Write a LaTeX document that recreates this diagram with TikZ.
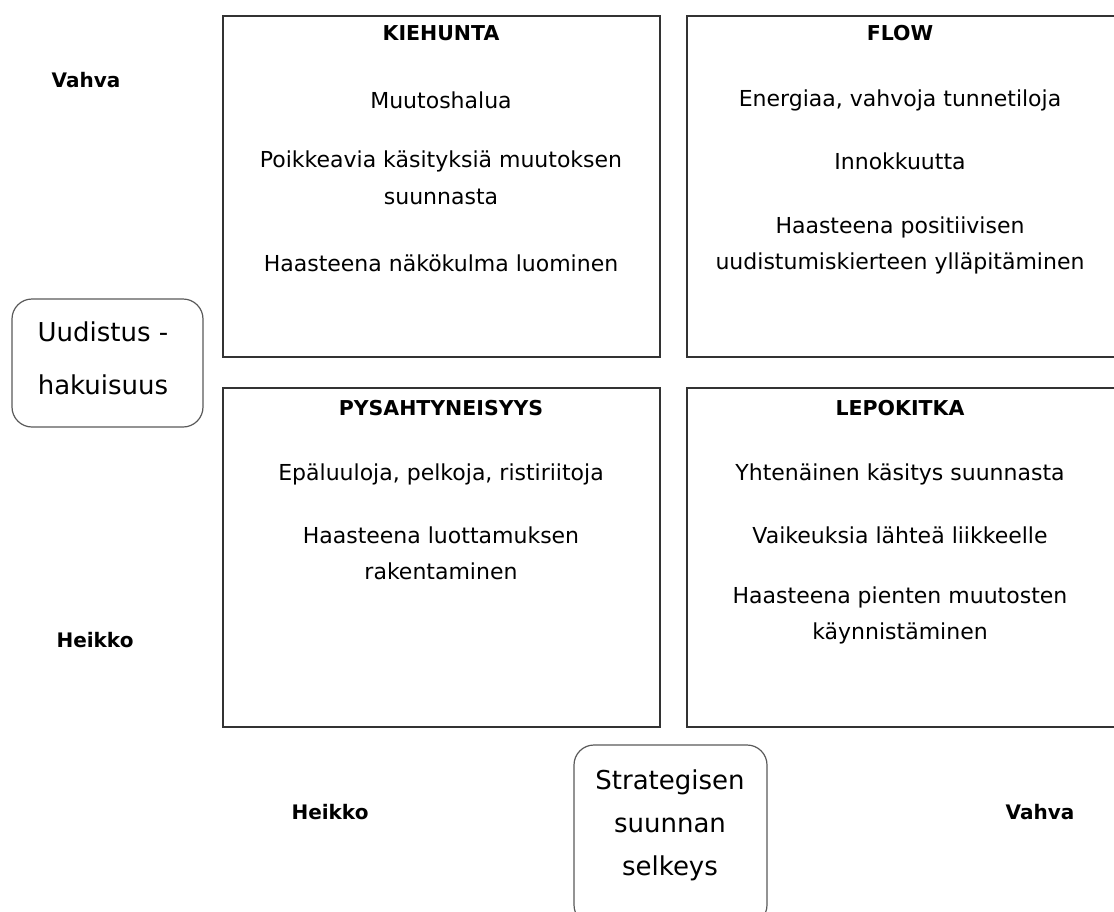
\documentclass[tikz,border=0pt]{standalone}
\usepackage{fontspec}
\setmainfont{DejaVu Sans}
\begin{document}
\begin{tikzpicture}[x=1pt,y=-1pt,
  quad/.style={draw=black!80,line width=1.3pt},
  axisbox/.style={draw=black!65,line width=1.2pt,rounded corners=20pt},
  head/.style={font=\bfseries\fontsize{20.5}{24}\selectfont,anchor=center,inner sep=0pt},
  body/.style={font=\fontsize{22}{26}\selectfont,anchor=center,inner sep=0pt},
  lab/.style={font=\bfseries\fontsize{20}{24}\selectfont,anchor=center,inner sep=0pt},
  big/.style={font=\fontsize{26}{30}\selectfont,anchor=center,inner sep=0pt}]
\useasboundingbox (0,0) rectangle (1114,911);
% quadrants
\draw[quad] (223,16) rectangle (660,357);
\draw[quad] (687,16) rectangle (1120,357);
\draw[quad] (223,388) rectangle (660,727);
\draw[quad] (687,388) rectangle (1120,727);
% KIEHUNTA
\node[head] (kt) at (441,33) {KIEHUNTA};
\node[body] (k1) at (441,100) {Muutoshalua};
\node[body] (k2) at (441,161) {Poikkeavia käsityksiä muutoksen};
\node[body] (k3) at (441,197) {suunnasta};
\node[body] (k4) at (441,263) {Haasteena näkökulma luominen};
% FLOW
\node[head] (ft) at (900,33) {FLOW};
\node[body] (f1) at (900,100) {Energiaa, vahvoja tunnetiloja};
\node[body] (f2) at (900,161) {Innokkuutta};
\node[body] (f3) at (900,227) {Haasteena positiivisen};
\node[body] (f4) at (900,263) {uudistumiskierteen ylläpitäminen};
% PYSAHTYNEISYYS
\node[head] (pt) at (441,408) {PYSAHTYNEISYYS};
\node[body] (p1) at (441,474) {Epäluuloja, pelkoja, ristiriitoja};
\node[body] (p2) at (441,535) {Haasteena luottamuksen};
\node[body] (p3) at (441,571) {rakentaminen};
% LEPOKITKA
\node[head] (lt) at (900,408) {LEPOKITKA};
\node[body] (l1) at (900,474) {Yhtenäinen käsitys suunnasta};
\node[body] (l2) at (900,535) {Vaikeuksia lähteä liikkeelle};
\node[body] (l3) at (900,597) {Haasteena pienten muutosten};
\node[body] (l4) at (900,633) {käynnistäminen};
% axis labels
\node[lab] (v1) at (86,80) {Vahva};
\node[lab] (h1) at (95,640) {Heikko};
\node[lab] (h2) at (330,812) {Heikko};
\node[lab] (v2) at (1040,812) {Vahva};
% axis boxes
\draw[axisbox] (12,299) rectangle (203,427);
\node[big] (u1) at (103,332) {Uudistus -};
\node[big] (u2) at (103,385) {hakuisuus};
\draw[axisbox] (574,745) rectangle (767,925);
\node[big] (s1) at (670,782) {Strategisen};
\node[big] (s2) at (670,825) {suunnan};
\node[big] (s3) at (670,868) {selkeys};
\end{tikzpicture}
\end{document}
